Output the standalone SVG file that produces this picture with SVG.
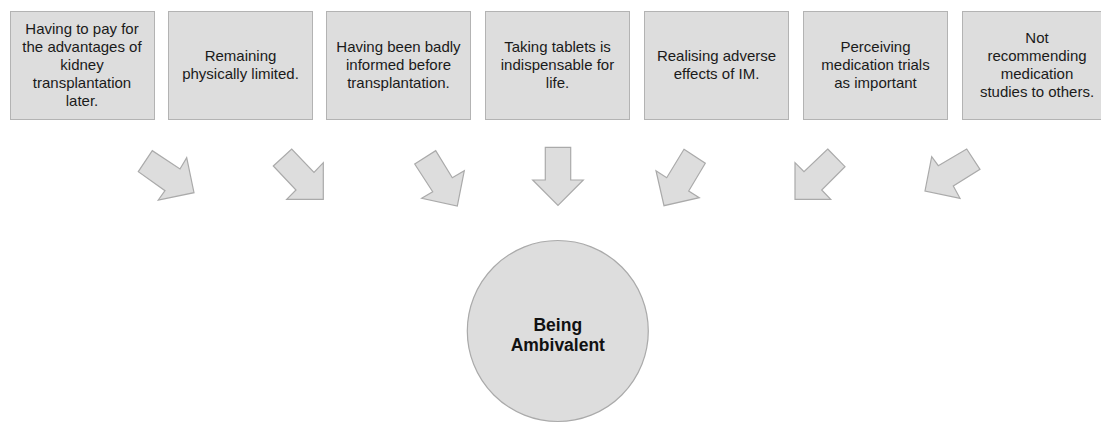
<svg xmlns="http://www.w3.org/2000/svg" width="1101" height="423" viewBox="0 0 1101 423">
  <style>
    .box { fill: #dddddd; stroke: #b3b3b3; stroke-width: 1; }
    .lbl { font-family: "Liberation Sans", Arial, sans-serif; font-size: 15px; fill: #1a1a1a; text-anchor: middle; }
    .arrow { fill: #dddddd; stroke: #aaaaaa; stroke-width: 1.2; stroke-linejoin: miter; }
    .core { fill: #dddddd; stroke: #aaaaaa; stroke-width: 1.2; }
    .core-lbl { font-family: "Liberation Sans", Arial, sans-serif; font-size: 17.5px; font-weight: bold; fill: #111111; text-anchor: middle; }
  </style>
  <rect width="1101" height="423" fill="#ffffff"/>

  <g id="node-pay-later">
    <rect class="box" x="10.5" y="11.5" width="144" height="108"/>
    <text class="lbl" x="82" y="34.3">Having to pay for<tspan x="82" dy="18">the advantages of</tspan><tspan x="82" dy="18">kidney</tspan><tspan x="82" dy="18">transplantation</tspan><tspan x="82" dy="18">later.</tspan></text>
  </g>
  <g id="node-physically-limited">
    <rect class="box" x="168.5" y="11.5" width="144" height="108"/>
    <text class="lbl" x="240.5" y="61.3">Remaining<tspan x="240.5" dy="18">physically limited.</tspan></text>
  </g>
  <g id="node-badly-informed">
    <rect class="box" x="326.5" y="11.5" width="144" height="108"/>
    <text class="lbl" x="398.5" y="52.3">Having been badly<tspan x="398.5" dy="18">informed before</tspan><tspan x="398.5" dy="18">transplantation.</tspan></text>
  </g>
  <g id="node-tablets">
    <rect class="box" x="485.5" y="11.5" width="144" height="108"/>
    <text class="lbl" x="557.5" y="52.3">Taking tablets is<tspan x="557.5" dy="18">indispensable for</tspan><tspan x="557.5" dy="18">life.</tspan></text>
  </g>
  <g id="node-adverse-effects">
    <rect class="box" x="644.5" y="11.5" width="144" height="108"/>
    <text class="lbl" x="716.5" y="61.3">Realising adverse<tspan x="716.5" dy="18">effects of IM.</tspan></text>
  </g>
  <g id="node-trials-important">
    <rect class="box" x="803.5" y="11.5" width="144" height="108"/>
    <text class="lbl" x="875.5" y="52.3">Perceiving<tspan x="875.5" dy="18">medication trials</tspan><tspan x="875.5" dy="18">as important</tspan></text>
  </g>
  <g id="node-not-recommending">
    <rect class="box" x="962.5" y="11.5" width="148" height="108"/>
    <text class="lbl" x="1037" y="42.5">Not<tspan x="1037" dy="18.2">recommending</tspan><tspan x="1037" dy="18.2">medication</tspan><tspan x="1037" dy="18.2">studies to others.</tspan></text>
  </g>

  <g id="connectors">
    <polygon class="arrow" points="138.3,171.7 152.3,150.7 180,169 186.7,157.7 194,192.7 158.3,200 165,190.7"/>
    <polygon class="arrow" points="273.3,166 291.7,149 314,172.3 323.3,162.7 323.3,199.3 286.7,199.3 296,190"/>
    <polygon class="arrow" points="414.7,164 435.7,150.7 452.3,177.7 464.3,170.7 457.3,206 421.7,198.3 432.7,191.7"/>
    <polygon class="arrow" points="545.3,147.3 570.7,147.3 570.7,180 583.3,180 558,205.3 532.7,180 545.3,180"/>
    <polygon class="arrow" points="684,149.3 705.3,163.3 688.7,191 699.3,197.7 664,205.7 656,170.7 666.7,177.7"/>
    <polygon class="arrow" points="827.7,149 845,166.7 821.7,190 830.7,199.3 795,199.3 795,162.7 804,171.7"/>
    <polygon class="arrow" points="966.7,149 980,169.3 953.3,186 960,198.3 925,191 931.7,156.7 938.3,165.7"/>
  </g>

  <g id="node-being-ambivalent">
    <circle class="core" cx="557.8" cy="331" r="90.5"/>
    <text class="core-lbl" x="557.8" y="330.7">Being<tspan x="557.8" dy="20">Ambivalent</tspan></text>
  </g>
</svg>
